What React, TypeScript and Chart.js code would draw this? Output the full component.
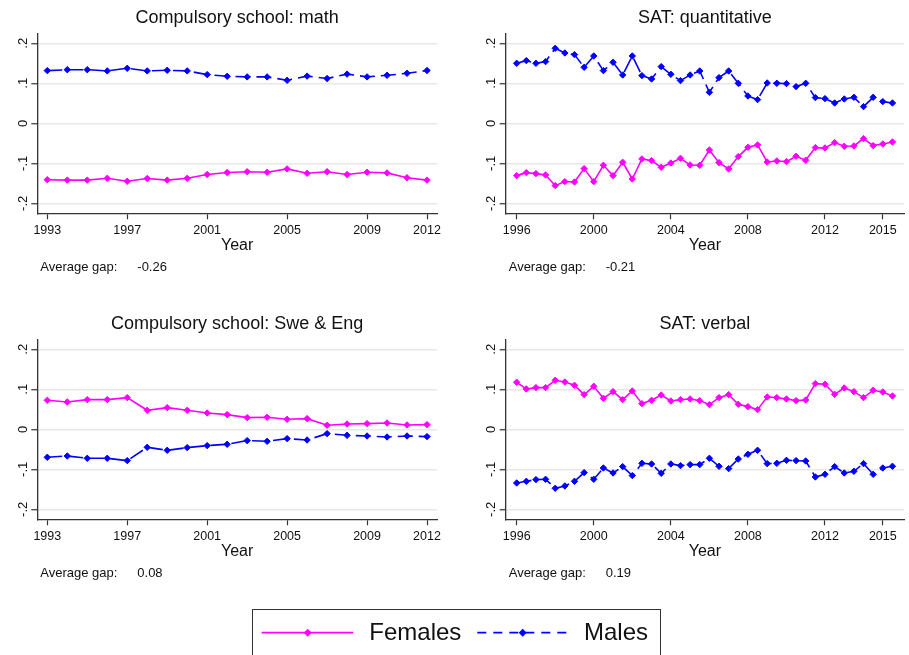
import React, { useEffect, useRef } from "react";
import { Chart, registerables } from "chart.js";

Chart.register(...registerables);

const FONT = "'Liberation Sans', Arial, Helvetica, sans-serif";
const TEXT = "#111111";
const AXIS = "#333333";
const PINK = "#ff00ff";
const BLUE = "#0000ff";

// ---------- data ----------
const compYears = [1993, 1994, 1995, 1996, 1997, 1998, 1999, 2000, 2001, 2002, 2003, 2004, 2005, 2006, 2007, 2008, 2009, 2010, 2011, 2012];
const satYears = [
  1996, 1996.5, 1997, 1997.5, 1998, 1998.5, 1999, 1999.5, 2000, 2000.5,
  2001, 2001.5, 2002, 2002.5, 2003, 2003.5, 2004, 2004.5, 2005, 2005.5,
  2006, 2006.5, 2007, 2007.5, 2008, 2008.5, 2009, 2009.5, 2010, 2010.5,
  2011, 2011.5, 2012, 2012.5, 2013, 2013.5, 2014, 2014.5, 2015, 2015.5,
];

const mathFemales = [-0.141, -0.142, -0.142, -0.1375, -0.145, -0.138, -0.142, -0.1375, -0.128, -0.123, -0.121, -0.1225, -0.114, -0.125, -0.121, -0.128, -0.1225, -0.124, -0.136, -0.142];
const mathMales = [0.1317, 0.134, 0.134, 0.131, 0.1375, 0.131, 0.1325, 0.131, 0.1217, 0.1175, 0.116, 0.116, 0.1075, 0.118, 0.112, 0.123, 0.116, 0.12, 0.125, 0.132];

const sweEngFemales = [0.0725, 0.0683, 0.0742, 0.0742, 0.0792, 0.0475, 0.0542, 0.0475, 0.0408, 0.0367, 0.0292, 0.03, 0.025, 0.0267, 0.01, 0.0133, 0.0142, 0.0158, 0.0108, 0.0117];
const sweEngMales = [-0.07, -0.0667, -0.0725, -0.0725, -0.0783, -0.045, -0.0525, -0.0458, -0.0408, -0.0375, -0.0283, -0.03, -0.0233, -0.0267, -0.0108, -0.015, -0.0167, -0.0192, -0.0167, -0.0183];

const satQuantFemales = [
  -0.1308, -0.1233, -0.1258, -0.1292, -0.1558, -0.1458, -0.1467, -0.1133, -0.1458, -0.105,
  -0.1308, -0.0975, -0.1392, -0.0892, -0.0933, -0.11, -0.0992, -0.0875, -0.1042, -0.105,
  -0.0667, -0.0983, -0.1142, -0.0833, -0.06, -0.0542, -0.0967, -0.0942, -0.0958, -0.0825,
  -0.0925, -0.0608, -0.0617, -0.0483, -0.0575, -0.0567, -0.0383, -0.0558, -0.0517, -0.0467,
];
const satQuantMales = [
  0.15, 0.1567, 0.15, 0.1542, 0.1875, 0.1758, 0.1717, 0.14, 0.1683, 0.1317,
  0.1525, 0.1208, 0.1683, 0.1192, 0.1108, 0.1417, 0.1225, 0.1067, 0.1208, 0.1308,
  0.0775, 0.1142, 0.1308, 0.1, 0.0683, 0.0592, 0.1008, 0.1, 0.0992, 0.0917,
  0.1, 0.0642, 0.0617, 0.0508, 0.0608, 0.065, 0.0417, 0.065, 0.0542, 0.0508,
];

const satVerbalFemales = [
  0.1175, 0.1008, 0.1042, 0.1042, 0.1225, 0.1183, 0.11, 0.0867, 0.1075, 0.0775,
  0.0942, 0.0742, 0.0958, 0.0642, 0.0725, 0.0858, 0.0708, 0.0742, 0.0758, 0.0717,
  0.0617, 0.0792, 0.0867, 0.0625, 0.0567, 0.0492, 0.0808, 0.0792, 0.0758, 0.0717,
  0.0733, 0.1142, 0.1125, 0.0875, 0.1033, 0.0942, 0.0792, 0.0975, 0.0933, 0.0833,
];
const satVerbalMales = [
  -0.1342, -0.13, -0.1258, -0.125, -0.1475, -0.1417, -0.13, -0.1083, -0.125, -0.0967,
  -0.1092, -0.0933, -0.1158, -0.085, -0.0867, -0.11, -0.0867, -0.0908, -0.0883, -0.0883,
  -0.0725, -0.0925, -0.0983, -0.0742, -0.0625, -0.0525, -0.0858, -0.085, -0.0775, -0.0783,
  -0.0792, -0.1192, -0.1125, -0.0933, -0.1092, -0.105, -0.0858, -0.1125, -0.0967, -0.0925,
];

const compXTicks = [1993, 1997, 2001, 2005, 2009, 2012];
const satXTicks = [1996, 2000, 2004, 2008, 2012, 2015];
const yTickValues = [-0.2, -0.1, 0, 0.1, 0.2];
const yTickLabels = ["-.2", "-.1", "0", ".1", ".2"];
const seriesNames = ["Females", "Males"];
const xAxisTitle = "Year";
const gapLabel = "Average gap:";
const panelTitles = ["Compulsory school: math", "SAT: quantitative", "Compulsory school: Swe & Eng", "SAT: verbal"];
const averageGaps = ["-0.26", "-0.21", "0.08", "0.19"];

// ---------- chart helpers ----------
const gapNotePlugin = {
  id: "gapNote",
  afterDraw(chart: any, _args: any, opts: any) {
    const { ctx, chartArea } = chart;
    ctx.save();
    ctx.font = `13px ${FONT}`;
    ctx.fillStyle = TEXT;
    ctx.textBaseline = "middle";
    ctx.textAlign = "left";
    const y = chartArea.bottom + 54.5;
    ctx.fillText(opts.label, chartArea.left + 3, y);
    ctx.fillText(opts.value, chartArea.left + 100, y);
    ctx.restore();
  },
};

type PanelProps = {
  title: string;
  years: number[];
  females: number[];
  males: number[];
  xTicks: number[];
  xMin: number;
  xMax: number;
  gap: string;
  left: number;
  top: number;
  width: number;
  yAxisWidth: number;
  rightPad: number;
};

const PANEL_H = 290;

function Panel(p: PanelProps) {
  const ref = useRef<HTMLCanvasElement | null>(null);
  useEffect(() => {
    if (!ref.current) return;
    const chart = new Chart(ref.current, {
      type: "line",
      data: {
        datasets: [
          {
            label: seriesNames[0],
            data: p.years.map((x, i) => ({ x, y: p.females[i] })),
            borderColor: PINK,
            backgroundColor: PINK,
            borderWidth: 1.6,
            pointStyle: "rectRot",
            pointRadius: 3.2,
            pointBorderWidth: 1,
            pointBackgroundColor: PINK,
            pointBorderColor: PINK,
            tension: 0,
            fill: false,
          },
          {
            label: seriesNames[1],
            data: p.years.map((x, i) => ({ x, y: p.males[i] })),
            borderColor: BLUE,
            backgroundColor: BLUE,
            borderWidth: 1.6,
            borderDash: [15, 6],
            pointStyle: "rectRot",
            pointRadius: 3.2,
            pointBorderWidth: 1,
            pointBackgroundColor: BLUE,
            pointBorderColor: BLUE,
            tension: 0,
            fill: false,
          },
        ],
      },
      options: {
        responsive: false,
        animation: false,
        events: [],
        layout: { padding: { left: 0, right: p.rightPad, top: 0, bottom: 0 } },
        plugins: {
          legend: { display: false },
          tooltip: { enabled: false },
          title: {
            display: true,
            text: p.title,
            fullSize: false,
            color: TEXT,
            font: { family: FONT, size: 18, weight: "normal", lineHeight: 1.2 },
            padding: { top: 7.7, bottom: 4.0 },
          },
          gapNote: { label: gapLabel, value: p.gap },
        } as any,
        scales: {
          x: {
            type: "linear",
            position: "bottom",
            min: p.xMin,
            max: p.xMax,
            afterBuildTicks: (s: any) => {
              s.ticks = p.xTicks.map((v) => ({ value: v }));
            },
            afterFit: (s: any) => {
              s.height = 76.7;
            },
            grid: {
              drawOnChartArea: false,
              drawTicks: true,
              tickLength: 6,
              tickColor: AXIS,
              tickWidth: 1.2,
            },
            border: { display: true, color: AXIS, width: 1.3 },
            ticks: {
              autoSkip: false,
              maxRotation: 0,
              minRotation: 0,
              padding: 3.5,
              color: TEXT,
              font: { family: FONT, size: 12.5 },
              callback: (v: any) => String(v),
            },
            title: {
              display: true,
              text: xAxisTitle,
              color: TEXT,
              font: { family: FONT, size: 16, lineHeight: 1.2 },
              padding: { top: 0, bottom: 35 },
            },
          },
          y: {
            type: "linear",
            min: -0.225,
            max: 0.225,
            afterBuildTicks: (s: any) => {
              s.ticks = yTickValues.map((v) => ({ value: v }));
            },
            afterFit: (s: any) => {
              s.width = p.yAxisWidth;
            },
            grid: {
              color: "#e8e8e8",
              lineWidth: 1.5,
              drawTicks: true,
              tickLength: 6,
              tickColor: AXIS,
              tickWidth: 1.2,
            },
            border: { display: true, color: AXIS, width: 1.3 },
            ticks: {
              autoSkip: false,
              minRotation: 90,
              maxRotation: 90,
              crossAlign: "center",
              padding: 0.5,
              color: TEXT,
              font: { family: FONT, size: 13 },
              callback: (_v: any, i: number) => yTickLabels[i],
            },
          },
        },
      } as any,
      plugins: [gapNotePlugin as any],
    });
    return () => chart.destroy();
  }, []);
  return (
    <canvas
      ref={ref}
      width={p.width}
      height={PANEL_H}
      style={{ position: "absolute", left: p.left, top: p.top, width: p.width, height: PANEL_H, display: "block" }}
    />
  );
}

function Legend() {
  const textStyle: React.CSSProperties = {
    position: "absolute",
    top: 620.4,
    fontFamily: FONT,
    fontSize: 24,
    lineHeight: "24px",
    color: TEXT,
    whiteSpace: "nowrap",
  };
  const diamond = (cx: number, cy: number, r: number) =>
    `${cx - r},${cy} ${cx},${cy - r} ${cx + r},${cy} ${cx},${cy + r}`;
  return (
    <>
      <div
        style={{
          position: "absolute",
          left: 251.5,
          top: 609,
          width: 409.5,
          height: 70,
          border: `1.3px solid ${AXIS}`,
          boxSizing: "border-box",
          background: "#fff",
        }}
      />
      <svg width={909} height={655} style={{ position: "absolute", left: 0, top: 0 }}>
        <line x1={261.7} y1={632.7} x2={353.3} y2={632.7} stroke={PINK} strokeWidth={1.8} />
        <polygon points={diamond(307.7, 632.7, 4)} fill={PINK} />
        <line x1={477.3} y1={632.7} x2={568.3} y2={632.7} stroke={BLUE} strokeWidth={1.8} strokeDasharray="9 7" />
        <polygon points={diamond(522.7, 632.7, 4)} fill={BLUE} />
      </svg>
      <span style={{ ...textStyle, left: 369.3 }}>{seriesNames[0]}</span>
      <span style={{ ...textStyle, left: 584 }}>{seriesNames[1]}</span>
    </>
  );
}

export default function App() {
  return (
    <div
      style={{
        position: "fixed",
        left: 0,
        top: 0,
        width: 909,
        height: 655,
        background: "#ffffff",
        overflow: "hidden",
      }}
    >
      <Panel title={panelTitles[0]} years={compYears} females={mathFemales} males={mathMales} xTicks={compXTicks}
        xMin={1992.5} xMax={2012.5} gap={averageGaps[0]} left={0} top={0} width={454} yAxisWidth={37.3} rightPad={17} />
      <Panel title={panelTitles[1]} years={satYears} females={satQuantFemales} males={satQuantMales} xTicks={satXTicks}
        xMin={1995.43} xMax={2016.1} gap={averageGaps[1]} left={468} top={0} width={441} yAxisWidth={37.7} rightPad={2} />
      <Panel title={panelTitles[2]} years={compYears} females={sweEngFemales} males={sweEngMales} xTicks={compXTicks}
        xMin={1992.5} xMax={2012.5} gap={averageGaps[2]} left={0} top={306} width={454} yAxisWidth={37.3} rightPad={17} />
      <Panel title={panelTitles[3]} years={satYears} females={satVerbalFemales} males={satVerbalMales} xTicks={satXTicks}
        xMin={1995.43} xMax={2016.1} gap={averageGaps[3]} left={468} top={306} width={441} yAxisWidth={37.7} rightPad={2} />
      <Legend />
    </div>
  );
}
